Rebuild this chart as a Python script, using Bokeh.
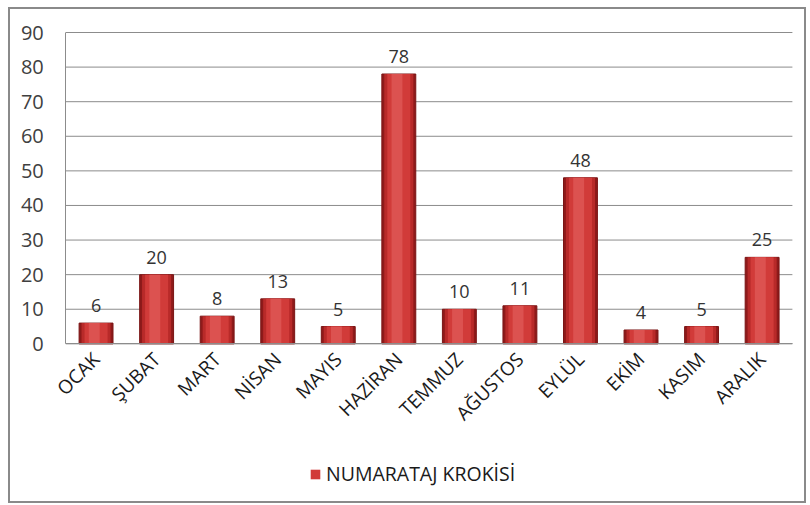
import math
from bokeh.plotting import figure
from bokeh.models import ColumnDataSource, FixedTicker, Legend, LegendItem, Range1d
from bokeh.transform import dodge
from bokeh.core.properties import value
from bokeh.embed import file_html
from bokeh.resources import INLINE

months = ["OCAK", "ŞUBAT", "MART", "NİSAN", "MAYIS", "HAZİRAN", "TEMMUZ",
          "AĞUSTOS", "EYLÜL", "EKİM", "KASIM", "ARALIK"]
counts = [6, 20, 8, 13, 5, 78, 10, 11, 48, 4, 5, 25]
y_ticks = [0, 10, 20, 30, 40, 50, 60, 70, 80, 90]
series_name = "NUMARATAJ KROKİSİ"

n = len(months)
xpos = [i + 0.5 for i in range(n)]   # category centres
src = ColumnDataSource(dict(x=xpos, month=months, count=counts,
                            label=[str(c) for c in counts]))

# the frame fills the whole chart box; axes are pinned inside it
p = figure(x_range=Range1d(-0.913, n + 0.266), y_range=Range1d(-45.0, 96.65),
           width=798, height=496, output_backend="svg", toolbar_location=None,
           min_border_left=0, min_border_right=0, min_border_top=0,
           min_border_bottom=6)
p.styles = {"border": "2px solid #8a8a8a", "box-sizing": "border-box",
            "margin-left": "8px", "margin-top": "7px"}
p.outline_line_color = None
p.background_fill_color = "white"
p.border_fill_color = "white"

# grid lines limited to the plot area
p.xgrid.grid_line_color = None
p.ygrid.grid_line_color = None
p.segment(x0=[0] * len(y_ticks), x1=[n] * len(y_ticks), y0=y_ticks, y1=y_ticks,
          line_color="#8c8c8c", line_width=1)

# axes
p.yaxis.ticker = FixedTicker(ticks=y_ticks)
p.yaxis.bounds = (0, 90)
p.yaxis.fixed_location = 0
p.xaxis.ticker = FixedTicker(ticks=xpos)
p.xaxis.major_label_overrides = {x: m for x, m in zip(xpos, months)}
p.xaxis.bounds = (0, n)
p.xaxis.fixed_location = 0
for ax in (p.xaxis, p.yaxis):
    ax.axis_line_color = "#8c8c8c"
    ax.major_tick_line_color = None
    ax.minor_tick_line_color = None
p.yaxis.major_label_text_font = "Open Sans"
p.yaxis.major_label_text_font_size = "20px"
p.yaxis.major_label_text_color = "#404040"
p.yaxis.major_label_standoff = 16
p.xaxis.major_label_text_font = "Open Sans"
p.xaxis.major_label_text_font_size = "19px"
p.xaxis.major_label_text_color = "#1a1a1a"
p.xaxis.major_label_orientation = math.pi / 4
p.xaxis.major_label_standoff = 6

# bars, layered for a bevelled look
p.vbar(x="x", top="count", width=0.56, source=src,
       fill_color="#8e1a1a", line_color="#7a1515", line_width=1)
p.vbar(x="x", top="count", width=0.48, source=src,
       fill_color="#b82a29", line_color=None)
main = p.vbar(x="x", top="count", width=0.38, source=src,
              fill_color="#d13b39", line_color=None)
p.vbar(x=dodge("x", -0.03), top="count", width=0.18,
       source=src, fill_color="#dc5250", line_color=None)

# value labels
p.text(x="x", y="count", text="label", source=src,
       text_align="center", text_baseline="bottom", y_offset=-11,
       text_font=value("Open Sans"), text_font_size="18px",
       text_color="#333333")

legend = Legend(items=[LegendItem(label=series_name, renderers=[main])],
                location=(299, 12), orientation="horizontal",
                border_line_color=None, background_fill_alpha=0,
                glyph_width=12, glyph_height=12, label_text_font="Open Sans",
                label_text_font_size="19.5px", label_text_color="#1a1a1a",
                label_standoff=5, padding=0, spacing=0, margin=0)
p.add_layout(legend, "center")

open("out.html", "w").write(file_html(p, INLINE))
